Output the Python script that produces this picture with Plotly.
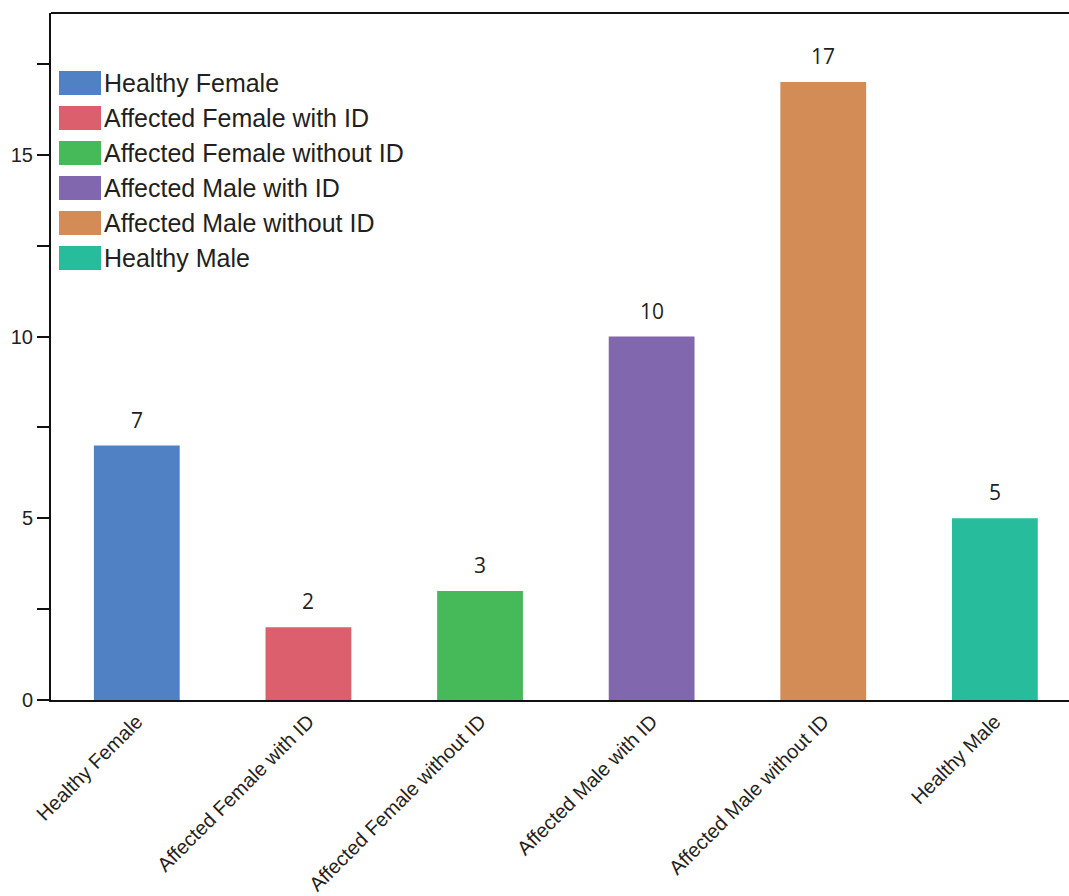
import plotly.graph_objects as go

categories = ["Healthy Female", "Affected Female with ID", "Affected Female without ID",
              "Affected Male with ID", "Affected Male without ID", "Healthy Male"]
counts = [7, 2, 3, 10, 17, 5]
colors = ["#4F81C4", "#DC5F6D", "#46B958", "#8067AE", "#D38C55", "#27BC9B"]
y_tickvals = [0, 2.5, 5, 7.5, 10, 12.5, 15, 17.5]
y_ticktext = ["0", "", "5", "", "10", "", "15", ""]

W, H = 1069, 896
ML, MT, MB, MR = 51, 13, 196, 0
PW = W - ML - MR
PH = H - MT - MB

fig = go.Figure()
fig.add_trace(go.Bar(
    x=categories, y=counts, marker=dict(color=colors, line=dict(width=0)),
    width=0.5, showlegend=False, hoverinfo="x+y",
))

# value labels
for c, v in zip(categories, counts):
    fig.add_annotation(x=c, y=v, text=str(v), showarrow=False, yanchor="bottom",
                       yshift=10, font=dict(family="Open Sans", size=21, color="#231f20"))

# custom legend (swatches + labels), positions given in page pixels
def px_to_paper_x(px):
    return (px - ML) / PW

def px_to_paper_y(py):
    return (H - MB - py) / PH

row0, row_step = 83, 35
for i, (c, col) in enumerate(zip(categories, colors)):
    cy = row0 + i * row_step
    fig.add_shape(type="rect", xref="paper", yref="paper",
                  x0=px_to_paper_x(59), x1=px_to_paper_x(101),
                  y0=px_to_paper_y(cy + 12), y1=px_to_paper_y(cy - 12),
                  fillcolor=col, line=dict(width=0))
    fig.add_annotation(xref="paper", yref="paper", x=px_to_paper_x(102), y=px_to_paper_y(cy),
                       text=c, showarrow=False, xanchor="left", yanchor="middle",
                       font=dict(family="Liberation Sans", size=25, color="#231f20"))

# top frame line
fig.add_shape(type="line", xref="paper", yref="paper", x0=0, x1=1, y0=1, y1=1,
              line=dict(color="#111", width=2))

fig.update_layout(
    width=W, height=H,
    margin=dict(l=ML, r=MR, t=MT, b=MB, pad=0, autoexpand=False),
    plot_bgcolor="white", paper_bgcolor="white",
    bargap=0.5,
    xaxis=dict(range=[-0.5, 5.432], showline=True, linecolor="#111", linewidth=2,
               ticks="", tickangle=-45, showgrid=False, zeroline=False, automargin=False,
               tickfont=dict(family="Liberation Sans", size=20, color="#231f20")),
    yaxis=dict(range=[0, 18.9], showline=True, linecolor="#111", linewidth=2,
               tickvals=y_tickvals, ticktext=y_ticktext, ticks="outside", ticklen=12,
               tickwidth=1.5, tickcolor="#111", showgrid=False, zeroline=False, automargin=False,
               tickfont=dict(family="Liberation Sans", size=20, color="#231f20")),
    font=dict(family="Liberation Sans"),
)

fig.write_html("out.html", config={"displayModeBar": False},
               post_script="document.body.style.margin='0';"
                           "document.documentElement.style.overflow='hidden';")
